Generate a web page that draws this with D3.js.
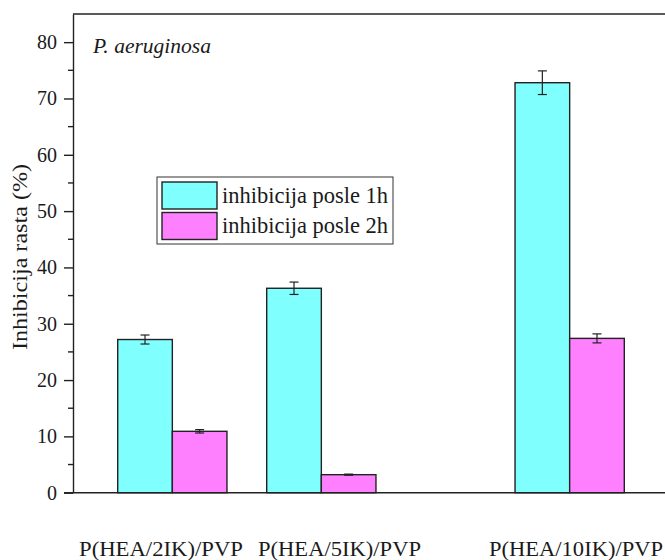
<!DOCTYPE html>
<html>
<head>
<meta charset="utf-8">
<script src="https://cdn.jsdelivr.net/npm/d3@7"></script>
<style>
  html, body { margin: 0; padding: 0; background: #fff; }
</style>
</head>
<body>
<svg id="chart" width="665" height="560"></svg>
<script>
// IK content of each sample (used as the numeric x position)
const ikContent = [2, 5, 10];
const sampleLabels = ["P(HEA/2IK)/PVP", "P(HEA/5IK)/PVP", "P(HEA/10IK)/PVP"];
const seriesNames = ["inhibicija posle 1h", "inhibicija posle 2h"];
const inhibition1h = [27.2, 36.3, 72.8];
const error1h = [0.8, 1.1, 2.1];
const inhibition2h = [10.9, 3.2, 27.4];
const error2h = [0.3, 0.1, 0.8];
const yMajorTicks = [0, 10, 20, 30, 40, 50, 60, 70, 80];
const yMinorTicks = [5, 15, 25, 35, 45, 55, 65, 75];

const FONT = '"Liberation Serif"';
const INK = "#1a1a1a";
const colors = ["#80ffff", "#ff80ff"];
const svg = d3.select("#chart");

const plotLeft = 73, plotTop = 14, plotBottom = 492.7, plotRight = 669;
const x = d3.scaleLinear().domain([0, 12]).range([plotLeft, plotRight]);
const y = d3.scaleLinear().domain([0, 85]).range([plotBottom, plotTop]);
const barW = 1.1; // bar width in x units

const series = [
  { values: inhibition1h, errors: error1h, offset: -barW, color: colors[0] },
  { values: inhibition2h, errors: error2h, offset: 0, color: colors[1] }
];

// bars
series.forEach(s => {
  svg.append("g").selectAll("rect")
    .data(ikContent.map((k, i) => ({ k, v: s.values[i] })))
    .join("rect")
    .attr("x", d => x(d.k + s.offset))
    .attr("width", d => x(d.k + s.offset + barW) - x(d.k + s.offset))
    .attr("y", d => y(d.v))
    .attr("height", d => y(0) - y(d.v))
    .attr("fill", s.color)
    .attr("stroke", "#222")
    .attr("stroke-width", 1.4);
});

// error bars
series.forEach(s => {
  const g = svg.append("g").attr("stroke", "#222").attr("stroke-width", 1.2);
  ikContent.forEach((k, i) => {
    const cx = x(k + s.offset + barW / 2);
    const hi = y(s.values[i] + s.errors[i]);
    const lo = y(s.values[i] - s.errors[i]);
    g.append("line").attr("x1", cx).attr("x2", cx).attr("y1", hi).attr("y2", lo);
    g.append("line").attr("x1", cx - 4.5).attr("x2", cx + 4.5).attr("y1", hi).attr("y2", hi);
    g.append("line").attr("x1", cx - 4.5).attr("x2", cx + 4.5).attr("y1", lo).attr("y2", lo);
  });
});

// frame: top line and bottom axis line
const frame = svg.append("g").attr("stroke", "#222").attr("stroke-width", 1.4).attr("fill", "none");
frame.append("line").attr("x1", plotLeft).attr("x2", 665).attr("y1", y(85)).attr("y2", y(85));
frame.append("line").attr("x1", plotLeft - 9).attr("x2", 665).attr("y1", y(0)).attr("y2", y(0));

const yAxis = d3.axisLeft(y).tickValues(yMajorTicks).tickSize(9).tickPadding(7).tickSizeOuter(0);
const ya = svg.append("g").attr("transform", `translate(${plotLeft},0)`).call(yAxis);
ya.attr("font-family", null).attr("font-size", null);
ya.select(".domain").attr("stroke", "#222").attr("stroke-width", 1.4);
ya.selectAll(".tick line").attr("stroke", "#222").attr("stroke-width", 1.4);
ya.selectAll(".tick text")
  .style("font-family", FONT).style("font-size", "20px")
  .attr("fill", INK).attr("dy", "0.32em");

svg.append("g").selectAll("line").data(yMinorTicks).join("line")
  .attr("x1", plotLeft - 5).attr("x2", plotLeft)
  .attr("y1", d => y(d)).attr("y2", d => y(d))
  .attr("stroke", "#222").attr("stroke-width", 1.4);

// y axis title
svg.append("text")
  .attr("transform", "translate(27,257) rotate(-90)")
  .attr("text-anchor", "middle")
  .attr("textLength", 186).attr("lengthAdjust", "spacingAndGlyphs")
  .style("font-family", FONT).style("font-size", "21px")
  .attr("fill", INK)
  .text("Inhibicija rasta (%)");

// sample labels below the axis
const labelLeft = [79, 258, 489];
const labelLen = [164, 163, 174];
svg.append("g").selectAll("text").data(sampleLabels).join("text")
  .attr("x", (d, i) => labelLeft[i])
  .attr("y", 556)
  .attr("textLength", (d, i) => labelLen[i]).attr("lengthAdjust", "spacingAndGlyphs")
  .style("font-family", FONT).style("font-size", "20px")
  .attr("fill", INK)
  .text(d => d);

// organism name
svg.append("text")
  .attr("x", 93).attr("y", 52.5)
  .attr("textLength", 118).attr("lengthAdjust", "spacingAndGlyphs")
  .style("font-family", FONT).style("font-size", "21px").style("font-style", "italic")
  .attr("fill", INK)
  .text("P. aeruginosa");

// legend
const lg = svg.append("g");
lg.append("rect").attr("x", 157).attr("y", 177).attr("width", 236).attr("height", 67)
  .attr("fill", "#fff").attr("stroke", "#333").attr("stroke-width", 1);
seriesNames.forEach((name, i) => {
  lg.append("rect").attr("x", 162).attr("y", 182 + i * 30.5).attr("width", 55).attr("height", 27)
    .attr("fill", colors[i]).attr("stroke", "#222").attr("stroke-width", 1.4);
  lg.append("text").attr("x", 222).attr("y", 202.5 + i * 30.5)
    .attr("textLength", 166).attr("lengthAdjust", "spacingAndGlyphs")
    .style("font-family", FONT).style("font-size", "24px")
    .attr("fill", INK)
    .text(name);
});
</script>
</body>
</html>
